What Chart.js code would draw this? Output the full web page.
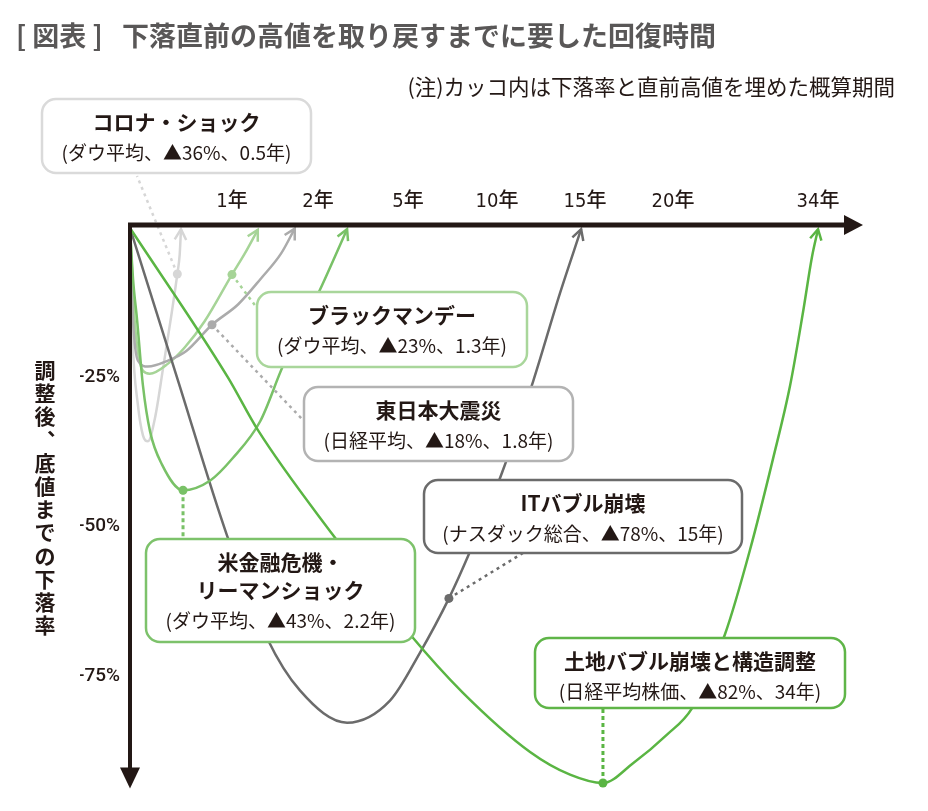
<!DOCTYPE html>
<html lang="ja">
<head>
<meta charset="utf-8">
<style>
  html, body { margin: 0; padding: 0; background: #fff; }
  canvas { display: block; }
</style>
<script src="https://cdn.jsdelivr.net/npm/chart.js@4.4.1/dist/chart.umd.min.js"></script>
</head>
<body>
<canvas id="recoveryChart" width="928" height="811"></canvas>
<script>
/* data: years after the peak vs. drop from the peak (%) */
const crashTitles = [['コロナ・ショック'], ['ブラックマンデー'], ['東日本大震災'],
  ['米金融危機・', 'リーマンショック'], ['ITバブル崩壊'], ['土地バブル崩壊と構造調整']];
const indexNames = ['ダウ平均', 'ダウ平均', '日経平均', 'ダウ平均', 'ナスダック総合', '日経平均株価'];
const dropPct = [36, 23, 18, 43, 78, 82];
const recoveryYears = ['0.5', '1.3', '1.8', '2.2', '15', '34'];

const xTickYears = [1, 2, 5, 10, 15, 20, 34];
const yTickValues = [-25, -50, -75];

const coronaYears = [0, 0.01, 0.025, 0.078, 0.127, 0.176, 0.245, 0.324, 0.41, 0.464, 0.487, 0.5];
const coronaDrop  = [0, -8.6, -18.6, -29.7, -34.7, -35.7, -31.8, -23.5, -14.1, -7.7, -4.5, -0.2];

const blackMondayYears = [0, 0.025, 0.046, 0.127, 0.193, 0.373, 0.536, 0.732, 1.0, 1.148, 1.3];
const blackMondayDrop  = [0, -8.6, -15.6, -23.9, -24.4, -22.7, -20.0, -15.6, -7.8, -4.3, -0.3];

const quakeYears = [0, 0.015, 0.03, 0.078, 0.176, 0.373, 0.552, 0.804, 1.07, 1.34, 1.57, 1.73];
const quakeDrop  = [0, -8.6, -15.6, -22.2, -23.2, -22.2, -20.6, -16.2, -12.8, -8.4, -4.3, -0.1];

const lehmanYears = [0, 0.03, 0.069, 0.127, 0.196, 0.314, 0.52, 0.784, 1.01, 1.33, 1.59, 2.07, 2.97];
const lehmanDrop  = [0, -8.6, -15.3, -26.4, -34.0, -39.6, -43.9, -42.3, -38.5, -32.3, -23.2, -10.3, -0.2];

const itYears = [0, 0.47, 0.95, 1.41, 1.79, 2.97, 4.4, 5.67, 7.3, 8.48, 10.28, 12.05, 13.58, 14.78];
const itDrop  = [0, -25.5, -51.4, -68.7, -77.4, -82.8, -79.1, -71.1, -62.0, -54.2, -41.0, -25.7, -10.9, -0.2];

const landYears = [0, 0.96, 1.3, 2.5, 5.11, 8.09, 11.88, 14.15, 16.02, 17.73, 19.66, 21.83, 25.02, 27.43, 29.66, 31.3, 32.55, 33.42, 34];
const landDrop  = [0, -25.0, -33.8, -51.4, -68.0, -77.8, -87.7, -91.5, -92.9, -89.6, -84.8, -80.4, -68.0, -53.9, -38.6, -26.4, -14.1, -4.8, -0.2];

// which point of each curve carries the callout dot
const markerIndex = [9, 8, 7, 6, 8, 8];

/* styling / layout */
const lineColors = ['#d6d6d6', '#a6d497', '#ababab', '#79c167', '#6b6b6b', '#5ab543'];
const lineOrder  = [5, 4, 3, 1, 2, 0];
const inkColor = '#231815';
const jpFont = "'Noto Sans CJK JP', 'Noto Sans', sans-serif";
const narrowFont = "'Liberation Sans Narrow', 'DejaVu Sans Condensed', 'Noto Sans CJK JP', sans-serif";
const pctFont = "Roboto, 'Noto Sans CJK JP', sans-serif";

// the time axis is stretched: each of these years sits at the given share of the axis
const axisYearStops = [0, 1, 2, 5, 10, 15, 20, 34, 37];
const axisStopShares = [0, 0.1397, 0.2575, 0.3808, 0.5027, 0.6233, 0.7438, 0.9425, 1.0];

const labelBoxes = [
  { x: 42,  y: 99,  w: 269, h: 74,  border: '#dadada', to: [137, 176] },
  { x: 257, y: 292, w: 270, h: 75,  border: '#a9d69b', to: [257, 308] },
  { x: 304, y: 387, w: 269, h: 74,  border: '#b3b3b3', to: [303, 420] },
  { x: 146, y: 539, w: 269, h: 103, border: '#7dc26b', to: 'top' },
  { x: 424, y: 480, w: 318, h: 73,  border: '#6b6b6b', to: [523, 553] },
  { x: 535, y: 638, w: 310, h: 70,  border: '#5fb548', to: 'bottom' }
];

function yearToShare(v) {
  for (let i = 1; i < axisYearStops.length; i++) {
    if (v <= axisYearStops[i]) {
      const a = axisYearStops[i - 1], b = axisYearStops[i];
      return axisStopShares[i - 1] + (v - a) / (b - a) * (axisStopShares[i] - axisStopShares[i - 1]);
    }
  }
  return 1;
}
function shareToYear(s) {
  for (let i = 1; i < axisStopShares.length; i++) {
    if (s <= axisStopShares[i]) {
      const a = axisStopShares[i - 1], b = axisStopShares[i];
      return axisYearStops[i - 1] + (s - a) / (b - a) * (axisYearStops[i] - axisYearStops[i - 1]);
    }
  }
  return axisYearStops[axisYearStops.length - 1];
}

class YearScale extends Chart.LinearScale {
  getPixelForValue(value) {
    if (value === null || value === undefined || isNaN(value)) return NaN;
    return this.getPixelForDecimal(yearToShare(value));
  }
  getValueForPixel(pixel) {
    return shareToYear(this.getDecimalForPixel(pixel));
  }
}
YearScale.id = 'yearScale';
YearScale.defaults = Chart.LinearScale.defaults;
Chart.register(YearScale);

function toPoints(xs, ys) {
  return xs.map((x, i) => ({ x: x, y: ys[i] }));
}

const series = [
  toPoints(coronaYears, coronaDrop),
  toPoints(blackMondayYears, blackMondayDrop),
  toPoints(quakeYears, quakeDrop),
  toPoints(lehmanYears, lehmanDrop),
  toPoints(itYears, itDrop),
  toPoints(landYears, landDrop)
];

function arrowHead(ctx, pt, prev, color) {
  let dx = pt.x - pt.cp1x, dy = pt.y - pt.cp1y;
  if (!isFinite(dx) || Math.hypot(dx, dy) < 0.5) { dx = pt.x - prev.x; dy = pt.y - prev.y; }
  const ang = Math.atan2(dy, dx), len = 12, spread = 0.5;
  ctx.save();
  ctx.strokeStyle = color;
  ctx.lineWidth = 2.5;
  ctx.beginPath();
  ctx.moveTo(pt.x - len * Math.cos(ang - spread), pt.y - len * Math.sin(ang - spread));
  ctx.lineTo(pt.x, pt.y);
  ctx.lineTo(pt.x - len * Math.cos(ang + spread), pt.y - len * Math.sin(ang + spread));
  ctx.stroke();
  ctx.restore();
}

const decorPlugin = {
  id: 'decor',
  afterDraw(chart) {
    const ctx = chart.ctx;
    const xs = chart.scales.x, ys = chart.scales.y;

    // callout leaders and dots
    labelBoxes.forEach((b, i) => {
      const pt = chart.getDatasetMeta(i).data[markerIndex[i]];
      let tx, ty;
      if (b.to === 'top') { tx = pt.x; ty = b.y; }
      else if (b.to === 'bottom') { tx = pt.x; ty = b.y + b.h; }
      else { tx = b.to[0]; ty = b.to[1]; }
      const vertical = typeof b.to === 'string';
      ctx.save();
      ctx.strokeStyle = lineColors[i];
      ctx.lineWidth = vertical ? 3 : 2.5;
      ctx.setLineDash(vertical ? [4, 3] : [3, 4]);
      ctx.beginPath();
      ctx.moveTo(pt.x, pt.y);
      ctx.lineTo(tx, ty);
      ctx.stroke();
      ctx.setLineDash([]);
      ctx.fillStyle = lineColors[i];
      ctx.beginPath();
      ctx.arc(pt.x, pt.y, 4.5, 0, Math.PI * 2);
      ctx.fill();
      ctx.restore();
    });

    // open arrow heads at the recovery end
    series.forEach((s, i) => {
      const pts = chart.getDatasetMeta(i).data;
      arrowHead(ctx, pts[pts.length - 1], pts[pts.length - 2], lineColors[i]);
    });

    // axes with arrows
    const ox = xs.left, axisY = ys.top - 3;
    ctx.save();
    ctx.fillStyle = inkColor;
    ctx.strokeStyle = inkColor;
    ctx.lineWidth = 5;
    ctx.beginPath();
    ctx.moveTo(ox - 2, axisY);
    ctx.lineTo(xs.right - 12, axisY);
    ctx.stroke();
    ctx.beginPath();
    ctx.moveTo(xs.right - 16, axisY - 10);
    ctx.lineTo(xs.right + 3, axisY);
    ctx.lineTo(xs.right - 16, axisY + 10);
    ctx.closePath();
    ctx.fill();
    ctx.lineWidth = 4;
    ctx.beginPath();
    ctx.moveTo(ox, axisY - 2);
    ctx.lineTo(ox, ys.bottom - 18);
    ctx.stroke();
    ctx.beginPath();
    ctx.moveTo(ox - 10, ys.bottom - 22);
    ctx.lineTo(ox, ys.bottom - 1);
    ctx.lineTo(ox + 10, ys.bottom - 22);
    ctx.closePath();
    ctx.fill();
    ctx.restore();

    // callout boxes
    labelBoxes.forEach((b, i) => {
      ctx.save();
      ctx.beginPath();
      ctx.roundRect(b.x, b.y, b.w, b.h, 14);
      ctx.fillStyle = '#fff';
      ctx.fill();
      ctx.lineWidth = 2.5;
      ctx.strokeStyle = b.border;
      ctx.stroke();
      ctx.fillStyle = inkColor;
      ctx.textAlign = 'center';
      ctx.textBaseline = 'middle';
      const cx = b.x + b.w / 2;
      let y = b.y + 23;
      ctx.font = 'bold 21px ' + jpFont;
      crashTitles[i].forEach(line => { ctx.fillText(line, cx, y); y += 28; });
      ctx.font = '19px ' + jpFont;
      ctx.fillText('(' + indexNames[i] + '、▲' + dropPct[i] + '%、' + recoveryYears[i] + '年)', cx, y + 3);
      ctx.restore();
    });

    // title, note, vertical axis title
    ctx.save();
    ctx.textBaseline = 'middle';
    ctx.fillStyle = '#595757';
    ctx.font = 'bold 27px ' + jpFont;
    ctx.textAlign = 'left';
    ctx.fillText('[ 図表 ]', 16, 36);
    ctx.fillText('下落直前の高値を取り戻すまでに要した回復時間', 122, 36);
    ctx.fillStyle = inkColor;
    ctx.font = '21.5px ' + jpFont;
    ctx.textAlign = 'right';
    ctx.fillText('(注)カッコ内は下落率と直前高値を埋めた概算期間', 895, 87);
    ctx.font = 'bold 21px ' + jpFont;
    ctx.textAlign = 'center';
    Array.from('調整後︑底値までの下落率').forEach((ch, k) => {
      ctx.fillText(ch, 45, 370 + k * 23.2);
    });
    ctx.restore();
  }
};

new Chart(document.getElementById('recoveryChart'), {
  type: 'line',
  data: {
    datasets: series.map((s, i) => ({
      data: s,
      borderColor: lineColors[i],
      borderWidth: 2.5,
      pointRadius: 0,
      cubicInterpolationMode: 'monotone',
      fill: false,
      clip: false,
      order: lineOrder[i]
    }))
  },
  options: {
    responsive: false,
    animation: false,
    devicePixelRatio: 1,
    layout: { padding: { left: 80, top: 188, right: 68, bottom: 16 } },
    plugins: { legend: { display: false }, tooltip: { enabled: false } },
    scales: {
      x: {
        type: 'yearScale',
        position: 'top',
        min: 0,
        max: 37,
        grid: { display: false, drawTicks: false },
        border: { display: false },
        afterFit: scale => { scale.height = 40; },
        afterBuildTicks: scale => { scale.ticks = xTickYears.map(v => ({ value: v })); },
        ticks: {
          autoSkip: false,
          maxRotation: 0,
          padding: 14,
          color: inkColor,
          font: { family: narrowFont, size: 20, weight: '500' },
          callback: v => v + '年'
        }
      },
      y: {
        type: 'linear',
        min: -94,
        max: 0,
        grid: { display: false, drawTicks: false },
        border: { display: false },
        afterFit: scale => { scale.width = 50; },
        afterBuildTicks: scale => { scale.ticks = yTickValues.map(v => ({ value: v })); },
        ticks: {
          padding: 10,
          color: inkColor,
          font: { family: pctFont, size: 19, weight: '500' },
          callback: v => '-' + Math.abs(v) + '%'
        }
      }
    }
  },
  plugins: [decorPlugin]
});
</script>
</body>
</html>
